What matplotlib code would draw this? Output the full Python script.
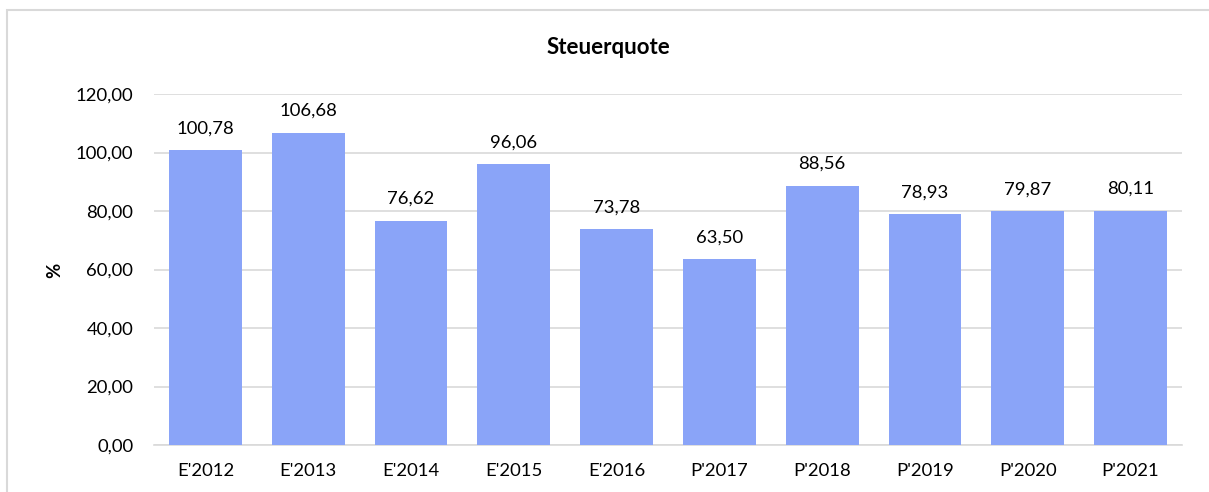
import matplotlib
matplotlib.use("Agg")
import matplotlib.pyplot as plt
from matplotlib.patches import Rectangle

categories = ["E'2012", "E'2013", "E'2014", "E'2015", "E'2016", "P'2017", "P'2018", "P'2019", "P'2020", "P'2021"]
values = [100.78, 106.68, 76.62, 96.06, 73.78, 63.50, 88.56, 78.93, 79.87, 80.11]
yticks = [0, 20, 40, 60, 80, 100, 120]

plt.rcParams['font.family'] = ['Lato', 'DejaVu Sans']

W, H = 1209, 492
FS = 13.3
fig = plt.figure(figsize=(W / 100, H / 100), dpi=100)
ax = fig.add_axes([154 / W, 1 - 445 / H, (1182 - 154) / W, (445 - 94) / H])

x = list(range(len(categories)))
ax.bar(x, values, width=0.71, color="#8AA4F8", zorder=3)
ax.set_xlim(-0.5, len(categories) - 0.5)
ax.set_ylim(0, 120)
ax.set_yticks(yticks)
ax.set_yticklabels([f"{v:.2f}".replace(".", ",") for v in yticks], fontsize=FS)
ax.set_xticks(x)
ax.set_xticklabels(categories, fontsize=FS)
ax.tick_params(length=0)
ax.tick_params(axis="y", pad=15)
ax.tick_params(axis="x", pad=13)
ax.grid(axis="y", color="#d9d9d9", linewidth=1.2, zorder=0)
for s in ["left", "right", "top"]:
    ax.spines[s].set_visible(False)
ax.spines["bottom"].set_color("#d9d9d9")
ax.spines["bottom"].set_linewidth(1.2)

for xi, v in zip(x, values):
    ax.annotate(f"{v:.2f}".replace(".", ","), (xi, v), xytext=(0, 10), textcoords="offset points",
                ha="center", va="bottom", fontsize=FS)

fig.text(608 / W, 1 - 47 / H, "Steuerquote", ha="center", va="center", fontsize=16, fontweight="bold")
fig.text(55 / W, 1 - 270 / H, "%", ha="center", va="center", rotation=90, fontsize=FS, fontweight="bold")

fig.patches.append(Rectangle((7 / W, -0.1), 1.5, 1 - 10 / H + 0.1, transform=fig.transFigure,
                             fill=False, edgecolor="#d9d9d9", linewidth=1.5))

fig.savefig("out.png", dpi=100)
